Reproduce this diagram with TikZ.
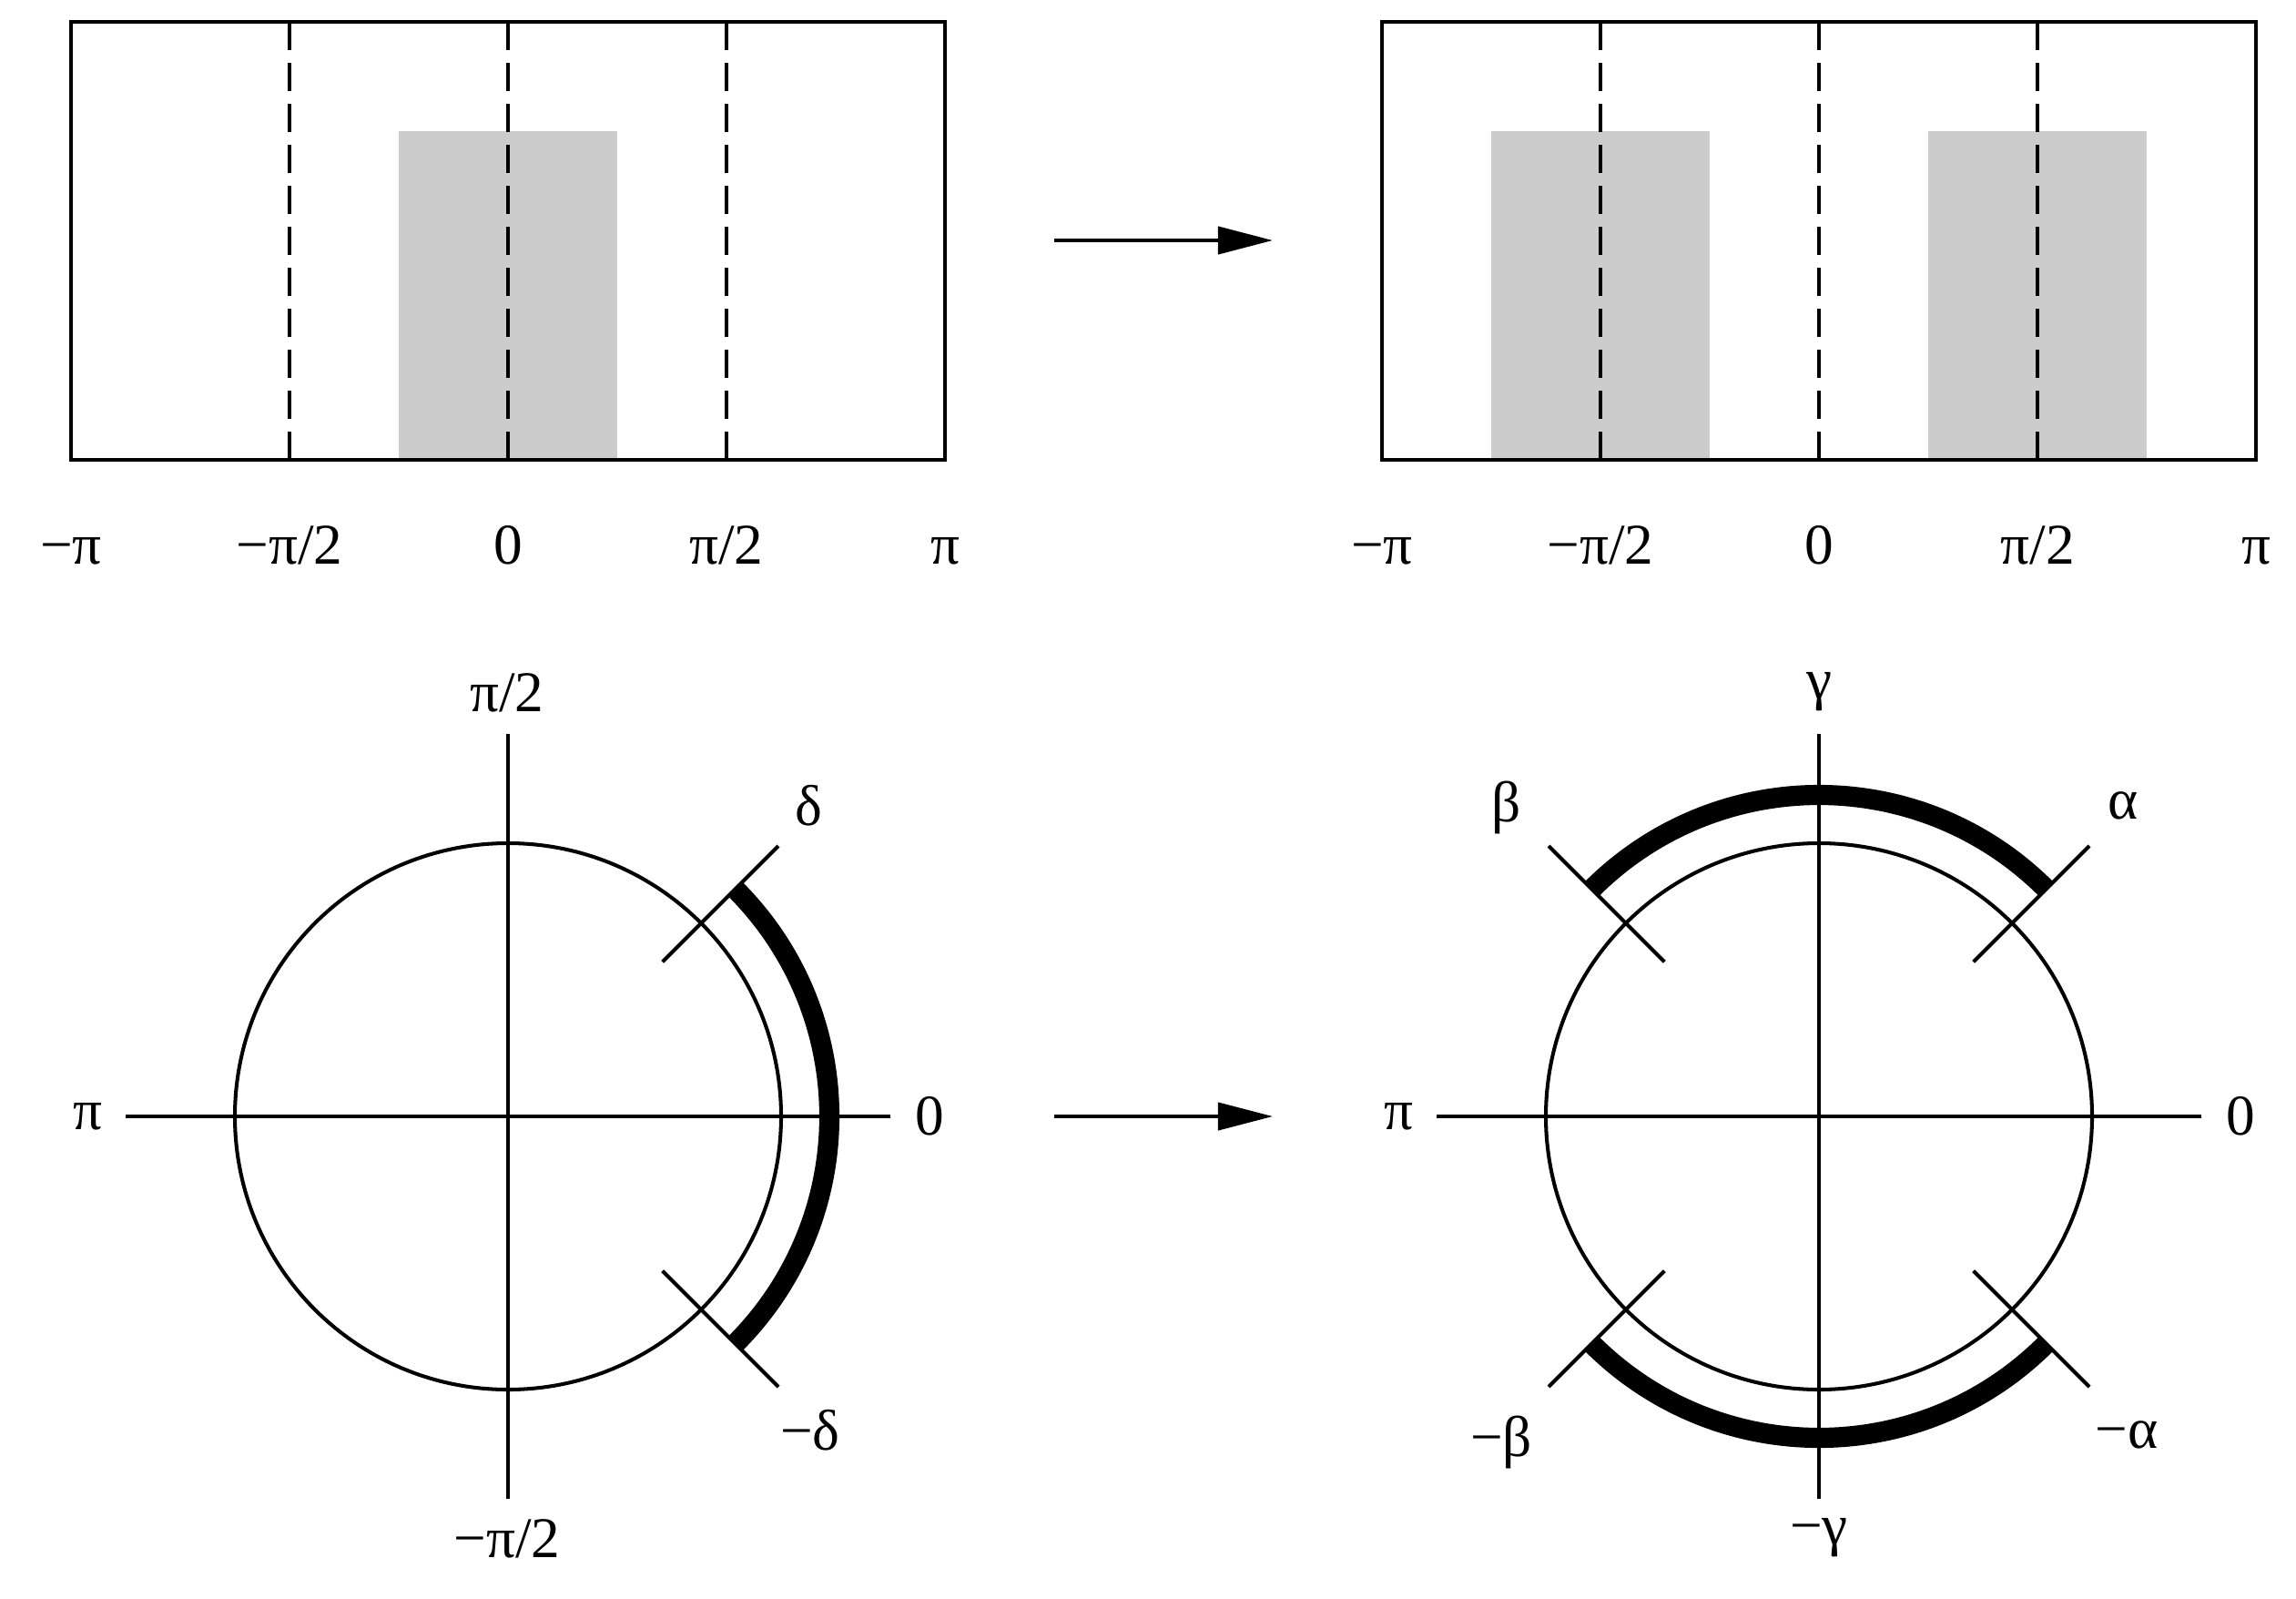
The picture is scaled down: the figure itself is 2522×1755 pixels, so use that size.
\documentclass[tikz,border=0pt]{standalone}
\usepackage{fontspec}
\setmainfont{Liberation Serif}
\usetikzlibrary{arrows.meta}
\definecolor{bandgray}{HTML}{CCCCCC}
\newcommand\lsz{\fontsize{18}{18}\selectfont}
\begin{document}
\begin{tikzpicture}[x=0.01cm,y=0.01cm,
  frame/.style={line width=1.35pt},
  guide/.style={line width=1.15pt, dash pattern=on 8.8pt off 4pt},
  band/.style={fill=bandgray, draw=none},
  thinline/.style={line width=1.15pt},
  thickarc/.style={line width=6.3pt},
  lab/.style={inner sep=0pt, anchor=base, font=\lsz},
  glab/.style={inner sep=0pt, anchor=center, font=\lsz},
  conn/.style={line width=1.15pt, -{Triangle[length=0.6cm,width=0.3cm]}}
]
\useasboundingbox (0,0) rectangle (2522,-1755);

% ---------- top left panel ----------
\fill[band] (438,-144) rectangle (678,-505);
\foreach \x in {318,558,798} \draw[guide] (\x,-24) -- (\x,-505);
\draw[frame] (78,-24) rectangle (1038,-505);
\node[lab] (tl1) at (78,-619)  {−π};
\node[lab] (tl2) at (318,-619) {−π/2};
\node[lab] (tl3) at (558,-619) {0};
\node[lab] (tl4) at (798,-619) {π/2};
\node[lab] (tl5) at (1038,-619) {π};

% ---------- top right panel ----------
\fill[band] (1638,-144) rectangle (1878,-505);
\fill[band] (2118,-144) rectangle (2358,-505);
\foreach \x in {1758,1998,2238} \draw[guide] (\x,-24) -- (\x,-505);
\draw[frame] (1518,-24) rectangle (2478,-505);
\node[lab] (tr1) at (1518,-619) {−π};
\node[lab] (tr2) at (1758,-619) {−π/2};
\node[lab] (tr3) at (1998,-619) {0};
\node[lab] (tr4) at (2238,-619) {π/2};
\node[lab] (tr5) at (2478,-619) {π};

% ---------- arrows ----------
\coordinate (a1s) at (1158,-264);
\coordinate (a1e) at (1398,-264);
\coordinate (a2s) at (1158,-1226);
\coordinate (a2e) at (1398,-1226);
\draw[conn] (a1s) -- (a1e);
\draw[conn] (a2s) -- (a2e);

% ---------- bottom left circle ----------
\coordinate (CL) at (558,-1226);
\draw[thinline] (CL) circle[radius=300];
\draw[thinline] ([xshift=-4.2cm]CL) -- ([xshift=4.2cm]CL);
\draw[thinline] ([yshift=4.2cm]CL) -- ([yshift=-4.2cm]CL);
\draw[thinline] (CL) ++(45:240) -- ++(45:180);
\draw[thinline] (CL) ++(-45:240) -- ++(-45:180);
\draw[thickarc] (CL) ++(-45:353) arc[start angle=-45, end angle=45, radius=353];
\node[glab] (bl1) at (96,-1226) {π};
\node[glab] (bl2) at (1021,-1226) {0};
\node[lab]  (bl3) at (557,-781) {π/2};
\node[lab]  (bl4) at (557,-1710) {−π/2};
\node[glab] (bl5) at (888,-885) {δ};
\node[glab] (bl6) at (890,-1571) {−δ};

% ---------- bottom right circle ----------
\coordinate (CR) at (1998,-1226);
\draw[thinline] (CR) circle[radius=300];
\draw[thinline] ([xshift=-4.2cm]CR) -- ([xshift=4.2cm]CR);
\draw[thinline] ([yshift=4.2cm]CR) -- ([yshift=-4.2cm]CR);
\foreach \a in {45,135,225,315} \draw[thinline] (CR) ++(\a:240) -- ++(\a:180);
\draw[thickarc] (CR) ++(45:353) arc[start angle=45, end angle=135, radius=353];
\draw[thickarc] (CR) ++(225:353) arc[start angle=225, end angle=315, radius=353];
\node[glab] (br1) at (1536,-1226) {π};
\node[glab] (br2) at (2461,-1226) {0};
\node[glab] (br3) at (1998,-760) {γ};
\node[glab] (br4) at (1998,-1689) {−γ};
\node[glab] (br5) at (2332,-885) {α};
\node[glab] (br6) at (1655,-887) {β};
\node[glab] (br7) at (1649,-1584) {−β};
\node[glab] (br8) at (2336,-1576) {−α};
\end{tikzpicture}
\end{document}
